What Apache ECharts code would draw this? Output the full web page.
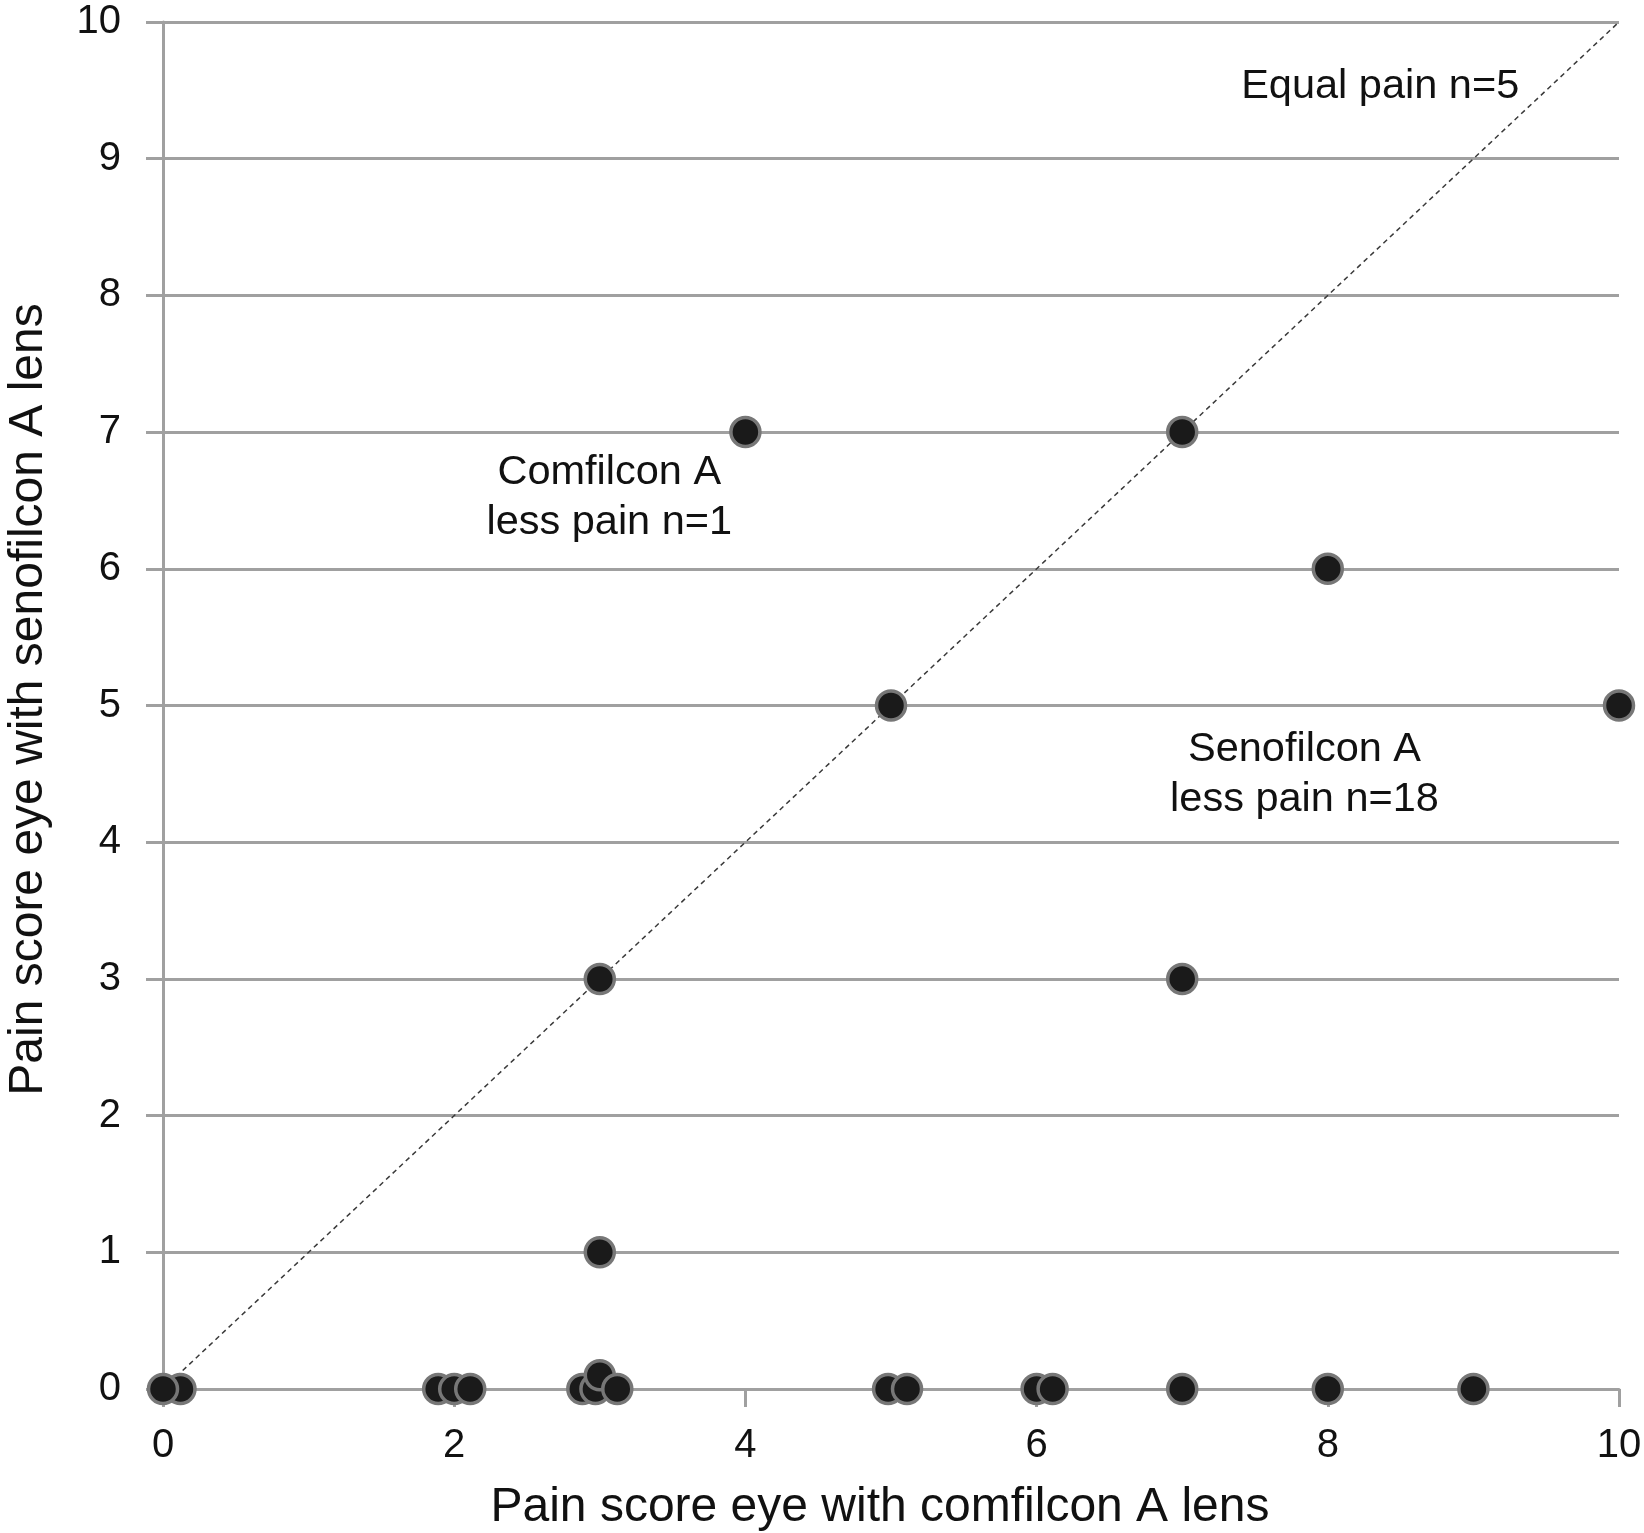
<!DOCTYPE html>
<html>
<head>
<meta charset="utf-8">
<script src="https://cdn.jsdelivr.net/npm/echarts@6/dist/echarts.min.js"></script>
<style>
html,body{margin:0;padding:0;background:#fff;}
#chart{width:1644px;height:1533px;}
</style>
</head>
<body>
<div id="chart"></div>
<script>
// Pain score, eye with comfilcon A lens (x) — small offsets are the original's jitter
const comfilconScores = [0.12, 0, 1.89, 2.0, 2.11, 2.88, 2.97, 3.0, 3.12, 4.98, 5.11, 6.0, 6.11, 7, 8, 9, 3, 7, 8, 10, 5, 3, 7, 4];
// Pain score, eye with senofilcon A lens (y)
const senofilconScores = [0, 0, 0, 0, 0, 0, 0, 0.1, 0, 0, 0, 0, 0, 0, 0, 0, 1, 3, 6, 5, 5, 3, 7, 7];
// Line of equal pain
const equalLine = [[0, 0], [10, 10]];
// Annotations: [x, y, text]
const annotations = [
  [8.36, 9.53, 'Equal pain n=5'],
  [3.065, 6.52, 'Comfilcon A\nless pain n=1'],
  [7.84, 4.495, 'Senofilcon A\nless pain n=18']
];
const xTicks = [0, 2, 4, 6, 8, 10];
const yTicks = [0, 1, 2, 3, 4, 5, 6, 7, 8, 9, 10];

const FONT = "'Liberation Sans', Arial, Helvetica, sans-serif";
const GRAY = '#a0a0a0';
const TEXT = '#111111';
const points = comfilconScores.map((x, i) => [x, senofilconScores[i]]);

const chart = echarts.init(document.getElementById('chart'), null, {renderer: 'canvas'});
chart.setOption({
  backgroundColor: '#ffffff',
  animation: false,
  grid: {left: 163, right: 25, top: 22, bottom: 144, containLabel: false, outerBoundsMode: 'none'},
  xAxis: {
    type: 'value', min: xTicks[0], max: xTicks[xTicks.length - 1], interval: 2,
    name: 'Pain score eye with comfilcon A lens',
    nameLocation: 'middle', nameGap: 95,
    nameTextStyle: {fontFamily: FONT, fontSize: 48, color: TEXT, padding: [0, 22, 0, 0]},
    axisLine: {show: true, lineStyle: {color: GRAY, width: 3}},
    axisTick: {show: true, length: 18, lineStyle: {color: GRAY, width: 3}},
    axisLabel: {fontFamily: FONT, fontSize: 40, color: TEXT, margin: 37},
    splitLine: {show: false}
  },
  yAxis: {
    type: 'value', min: yTicks[0], max: yTicks[yTicks.length - 1], interval: 1,
    name: 'Pain score eye with senofilcon A lens',
    nameLocation: 'middle', nameGap: 110,
    nameTextStyle: {fontFamily: FONT, fontSize: 48, color: TEXT, padding: [0, 0, 0, 12]},
    axisLine: {show: true, lineStyle: {color: GRAY, width: 3}},
    axisTick: {show: true, length: 17, lineStyle: {color: GRAY, width: 3}},
    axisLabel: {fontFamily: FONT, fontSize: 40, color: TEXT, margin: 42},
    splitLine: {show: true, lineStyle: {color: GRAY, width: 3}}
  },
  series: [
    {
      type: 'line', data: equalLine, symbol: 'none', silent: true, z: 2,
      lineStyle: {color: '#3a3a3a', width: 1.5, type: [5, 4]}
    },
    {
      type: 'scatter', data: points, symbol: 'circle', symbolSize: 29, z: 5,
      itemStyle: {color: '#1a1a1a', borderColor: '#777777', borderWidth: 3.5, opacity: 1}
    },
    {
      type: 'scatter', symbolSize: 0, silent: true, z: 6,
      itemStyle: {color: TEXT, opacity: 1},
      data: annotations.map(a => ({value: [a[0], a[1]], label: {formatter: a[2]}})),
      label: {
        show: true, position: 'inside', fontFamily: FONT, fontSize: 41.5, lineHeight: 50,
        color: TEXT, textBorderWidth: 0, align: 'center', verticalAlign: 'middle'
      }
    }
  ]
});
</script>
</body>
</html>
